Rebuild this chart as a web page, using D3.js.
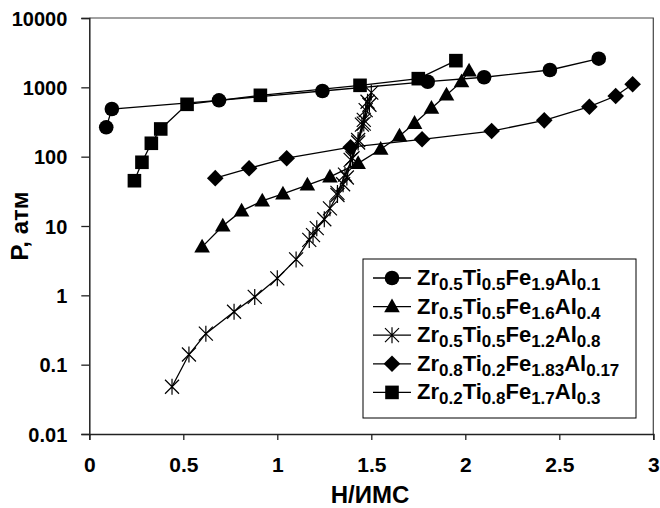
<!DOCTYPE html>
<html><head><meta charset="utf-8">
<script src="https://cdn.jsdelivr.net/npm/d3@7"></script>
<style>body{margin:0;background:#fff}svg{display:block}</style>
</head><body>
<svg id="c" width="660" height="508"></svg>
<script>
// ---- data ----
const xTicks = [0, 0.5, 1, 1.5, 2, 2.5, 3];
const xTickLabels = ["0", "0.5", "1", "1.5", "2", "2.5", "3"];
const yTicks = [0.01, 0.1, 1, 10, 100, 1000, 10000];
const yTickLabels = ["0.01", "0.1", "1", "10", "100", "1000", "10000"];

const circleX = [0.09, 0.12, 0.69, 1.24, 1.80, 2.10, 2.45, 2.71];
const circleY = [265, 487, 650, 885, 1205, 1397, 1778, 2590];

const triX = [0.60, 0.71, 0.81, 0.92, 1.03, 1.16, 1.28, 1.43, 1.55, 1.65, 1.73, 1.82, 1.90, 1.98, 2.02];
const triY = [5, 10, 16.5, 23, 29, 39, 51, 80, 128, 199, 303, 499, 777, 1207, 1722];

const starX = [0.44, 0.53, 0.62, 0.77, 0.88, 1.00, 1.10, 1.17, 1.19, 1.21, 1.25, 1.28, 1.32, 1.35, 1.37, 1.39, 1.43, 1.45, 1.46, 1.47, 1.48, 1.50, 1.49, 1.46, 1.43, 1.40, 1.36, 1.32];
const starY = [0.048, 0.14, 0.28, 0.58, 0.95, 1.76, 3.3, 6.3, 7.4, 9.3, 12.5, 18, 28, 40, 50, 90, 174, 290, 340, 470, 620, 840, 560, 300, 160, 95, 55, 30];

const diaX = [0.67, 0.85, 1.05, 1.39, 1.77, 2.14, 2.42, 2.66, 2.80, 2.89];
const diaY = [49, 68, 95, 137, 178, 234, 334, 526, 750, 1107];

const sqX = [0.24, 0.28, 0.33, 0.38, 0.52, 0.91, 1.44, 1.75, 1.95];
const sqY = [45, 83, 156, 251, 569, 767, 1069, 1334, 2426];

const seriesNames = [
  [["Zr","0.5"],["Ti","0.5"],["Fe","1.9"],["Al","0.1"]],
  [["Zr","0.5"],["Ti","0.5"],["Fe","1.6"],["Al","0.4"]],
  [["Zr","0.5"],["Ti","0.5"],["Fe","1.2"],["Al","0.8"]],
  [["Zr","0.8"],["Ti","0.2"],["Fe","1.83"],["Al","0.17"]],
  [["Zr","0.2"],["Ti","0.8"],["Fe","1.7"],["Al","0.3"]]
];
const seriesMarkers = ["circle", "triangle", "star", "diamond", "square"];

const series = [
  {x: circleX, y: circleY},
  {x: triX, y: triY},
  {x: starX, y: starY},
  {x: diaX, y: diaY},
  {x: sqX, y: sqY}
].map((s, i) => ({name: seriesNames[i], marker: seriesMarkers[i],
  pts: s.x.map((v, j) => [v, s.y[j]])}));

// ---- layout ----
const svg = d3.select("#c");
const L = 89.3, R = 653.3, T = 18, B = 434;
const x = d3.scaleLinear().domain([0, 3]).range([L, R]);
const y = d3.scaleLog().domain([0.01, 10000]).range([B, T]);
const FONT = "'Liberation Sans', Arial, sans-serif";

// frame (top/right)
svg.append("path").attr("d", `M${L},${T}H${R}V${B}`)
  .attr("fill", "none").attr("stroke", "#444").attr("stroke-width", 1.2);

// axes
const gx = svg.append("g").attr("transform", `translate(0,${B})`)
  .call(d3.axisBottom(x).tickValues(xTicks).tickSize(6).tickPadding(17)
    .tickFormat((d, i) => xTickLabels[i]));
const gy = svg.append("g").attr("transform", `translate(${L},0)`)
  .call(d3.axisLeft(y).tickValues(yTicks).tickSize(8).tickPadding(14)
    .tickFormat((d, i) => yTickLabels[i]));
[gx, gy].forEach(g => {
  g.select(".domain").attr("stroke", "#222").attr("stroke-width", 1.5);
  g.selectAll(".tick line").attr("stroke", "#222").attr("stroke-width", 1.3);
  g.selectAll("text").attr("font-family", FONT).attr("font-weight", "bold").attr("fill", "#000");
});
gx.selectAll("text").attr("font-size", 21);
gy.selectAll("text").attr("font-size", 20).attr("dy", "0.36em");

// axis titles
svg.append("text").attr("x", 370).attr("y", 503).attr("text-anchor", "middle")
  .attr("font-family", FONT).attr("font-weight", "bold").attr("font-size", 24)
  .text("H/ИМС");
svg.append("text").attr("transform", `translate(28,${(T + B) / 2}) rotate(-90)`)
  .attr("text-anchor", "middle")
  .attr("font-family", FONT).attr("font-weight", "bold").attr("font-size", 24)
  .text("P, атм");

// markers
function markerPath(type) {
  switch (type) {
    case "circle": return d3.symbol(d3.symbolCircle, Math.PI * 7.3 * 7.3)();
    case "square": return "M-6.8,-6.8H6.8V6.8H-6.8Z";
    case "diamond": return "M0,-8.3L8.3,0L0,8.3L-8.3,0Z";
    case "triangle": return "M0,-8.2L7.8,5.6H-7.8Z";
    case "star": return "M-7,-7L7,7M-7,7L7,-7M0,-8V8";
  }
}
function drawMarker(g, type) {
  const p = g.append("path").attr("d", markerPath(type));
  if (type === "star") p.attr("fill", "none").attr("stroke", "#000").attr("stroke-width", 1.2);
  else p.attr("fill", "#000");
}

const line = d3.line().x(d => x(d[0])).y(d => y(d[1]));
series.forEach(s => {
  svg.append("path").datum(s.pts).attr("d", line)
    .attr("fill", "none").attr("stroke", "#000").attr("stroke-width", 1.3);
});
series.forEach(s => {
  s.pts.forEach(p => {
    const g = svg.append("g").attr("transform", `translate(${x(p[0])},${y(p[1])})`);
    drawMarker(g, s.marker);
  });
});

// legend
const lg = svg.append("g");
lg.append("rect").attr("x", 363).attr("y", 259).attr("width", 273).attr("height", 159)
  .attr("fill", "#fff").attr("stroke", "#000").attr("stroke-width", 1);
series.forEach((s, i) => {
  const cy = 278 + i * 28.6;
  lg.append("line").attr("x1", 373).attr("x2", 411).attr("y1", cy).attr("y2", cy)
    .attr("stroke", "#000").attr("stroke-width", 1.3);
  drawMarker(lg.append("g").attr("transform", `translate(392,${cy})`), s.marker);
  const t = lg.append("text").attr("x", 417).attr("y", cy + 7)
    .attr("font-family", FONT).attr("font-weight", "bold").attr("font-size", 22);
  s.name.forEach(([el, sub], j) => {
    t.append("tspan").attr("font-size", 22).attr("dy", j === 0 ? 0 : -5).text(el);
    t.append("tspan").attr("font-size", 17).attr("dy", 5).text(sub);
  });
});
</script>
</body></html>
